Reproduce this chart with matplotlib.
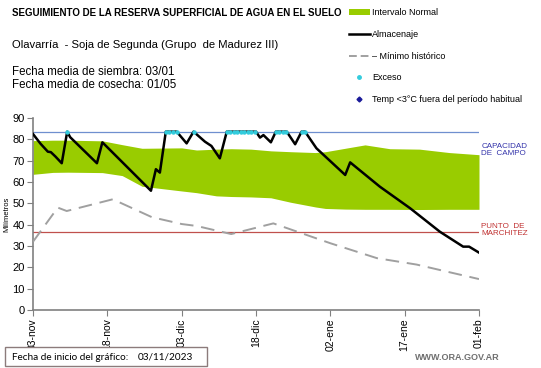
import matplotlib
matplotlib.use("Agg")
import matplotlib.pyplot as plt
from matplotlib.lines import Line2D
from matplotlib.patches import Patch, Rectangle

plt.rcParams['font.family'] = ['Liberation Sans', 'DejaVu Sans']

# ---- data (day offset from 03-nov-2023) ----
tick_days = [0, 15, 30, 45, 60, 75, 90]
tick_labels = ["03-nov", "18-nov", "03-dic", "18-dic", "02-ene", "17-ene", "01-feb"]

alm_days = [0, 1.5, 3, 3.6, 4.5, 5.8, 6.9, 7.5, 12.9, 14, 23.8, 24.8, 25.6, 26.8, 29,
            31, 32.4, 34.7, 36, 37.7, 39.1, 45, 45.8, 46.5, 48, 49, 51.2, 52.9, 54.2,
            54.9, 57.2, 63, 64, 70, 76.1, 82.1, 86.8, 88, 90]
alm_vals = [82.5, 78, 74.2, 74, 72, 68.8, 83.6, 81, 68.8, 78.6, 55.9, 66, 64.4, 83.6, 83.6,
            78.1, 83.6, 78.9, 76.9, 71.1, 83.6, 83.6, 80.8, 82, 78.6, 83.6, 83.6, 77.7, 83.6,
            83.6, 75.8, 63.3, 69.2, 57.8, 47.7, 36.7, 29.7, 29.7, 26.9]

min_days = [0, 5, 6.8, 16.1, 24, 30, 33, 40, 48.5, 60, 69.4, 77.4, 83.5, 90]
min_vals = [32, 48, 46.4, 51.9, 43.5, 40.3, 39.4, 35.6, 40.6, 31.3, 24.3, 21.3, 18, 14.5]

band_days = [0, 4, 7, 14, 18, 22, 30, 33, 37, 40, 44, 48, 52, 57, 59, 63, 67, 72, 78, 84, 90]
band_upper = [79.4, 79.6, 79.6, 79.3, 77.5, 75.8, 76, 75, 75.4, 75.6, 75.4, 74.6, 74.2, 73.8,
              74.2, 75.8, 77.4, 75.6, 75.4, 73.8, 72.8]
band_lower = [63.6, 64.5, 64.6, 64.4, 63, 58, 55.8, 55, 53.5, 53.2, 53, 52.6, 50.5, 48.3,
              47.6, 47.3, 47.2, 47.2, 47.1, 47.2, 47.2]

exceso_days = [6.9, 26.8, 27.5, 28.2, 29, 32.4, 39.1, 39.8, 40.5, 41.2, 41.9, 42.6, 43.3,
               44, 44.7, 49, 49.7, 50.4, 51.1, 54.2, 54.9]
capacidad = 83.6
marchitez = 36.4

# ---- figure ----
fig = plt.figure(figsize=(5.41, 3.68), dpi=100)
ax = fig.add_axes([33/541, 1-310/368, (479-33)/541, (310-118)/368])

ax.fill_between(band_days, band_lower, band_upper, color='#99cc00', linewidth=0, zorder=1)
ax.axhline(capacidad, color='#6f8fcf', lw=0.9, zorder=2)
ax.axhline(marchitez, color='#c0504d', lw=0.9, zorder=2)
ax.plot(min_days, min_vals, color='#a0a0a0', lw=1.4, dashes=(7, 4), zorder=3)
ax.plot(alm_days, alm_vals, color='black', lw=1.8, zorder=4)
ax.plot(exceso_days, [capacidad]*len(exceso_days), linestyle='none', marker='o',
        ms=2.2, color='#33ccdd', zorder=5)

ax.set_xlim(0, 90)
ax.set_ylim(0, 90)
ax.set_yticks(range(0, 91, 10))
ax.set_xticks(tick_days)
ax.set_xticklabels(tick_labels, rotation=90, fontsize=7.5)
ax.tick_params(axis='y', labelsize=8, direction='out', length=4, color='#808080', pad=2)
ax.tick_params(axis='x', direction='out', length=4, color='#808080', pad=2)
for s in ['top', 'right']:
    ax.spines[s].set_visible(False)
for s in ['left', 'bottom']:
    ax.spines[s].set_color('#808080')
    ax.spines[s].set_linewidth(1.2)
ax.set_ylabel("Milímetros", fontsize=5.5, labelpad=1.5)

# right-side labels
ax.text(1.005, 78.5, "CAPACIDAD\nDE  CAMPO", transform=ax.get_yaxis_transform(),
        color='#3333aa', fontsize=5.8, va='top', ha='left', linespacing=1.1)
ax.text(1.005, 41.0, "PUNTO  DE\nMARCHITEZ", transform=ax.get_yaxis_transform(),
        color='#c03030', fontsize=5.8, va='top', ha='left', linespacing=1.1)

# titles
fig.text(12/541, 1-13/368, "SEGUIMIENTO DE LA RESERVA SUPERFICIAL DE AGUA EN EL SUELO",
         fontsize=7.0, fontweight='bold', va='center', ha='left')
fig.text(12/541, 1-45/368, "Olavarría  - Soja de Segunda (Grupo  de Madurez III)",
         fontsize=8.1, va='center', ha='left')
fig.text(12/541, 1-72/368, "Fecha media de siembra: 03/01", fontsize=8.3, va='center', ha='left')
fig.text(12/541, 1-85/368, "Fecha media de cosecha: 01/05", fontsize=8.3, va='center', ha='left')

# legend
handles = [Patch(facecolor='#99cc00', edgecolor='none'),
           Line2D([], [], color='black', lw=1.8),
           Line2D([], [], color='#a0a0a0', lw=1.4, dashes=(4, 2)),
           Line2D([], [], linestyle='none', marker='o', ms=2.5, color='#33ccdd'),
           Line2D([], [], linestyle='none', marker='D', ms=2.5, color='#1a1a99')]
labels = ["Intervalo Normal", "Almacenaje", "– Mínimo histórico", "Exceso",
          "Temp <3°C fuera del período habitual"]
fig.legend(handles, labels, loc='upper left', bbox_to_anchor=(349/541, 1-8/368),
           frameon=False, fontsize=6.5, handlelength=2.3, handleheight=0.6,
           handletextpad=0.3, labelspacing=1.42, borderaxespad=0, borderpad=0)

# bottom box
fig.patches.append(Rectangle((5/541, 1-366/368), 202/541, 19/368, transform=fig.transFigure,
                             facecolor='white', edgecolor='#8c7b7b', lw=1))
fig.text(12/541, 1-357/368, "Fecha de inicio del gráfico:", fontsize=7.2,
         family=['Lato', 'DejaVu Sans'], va='center', ha='left')
fig.text(138/541, 1-357/368, "03/11/2023", fontsize=7.2,
         family=['Lato', 'DejaVu Sans'], va='center', ha='left')
fig.text(500/541, 1-358/368, "WWW.ORA.GOV.AR", fontsize=6.5, color='#707070',
         fontweight='bold', va='center', ha='right')

fig.savefig("out.png", dpi=100)
